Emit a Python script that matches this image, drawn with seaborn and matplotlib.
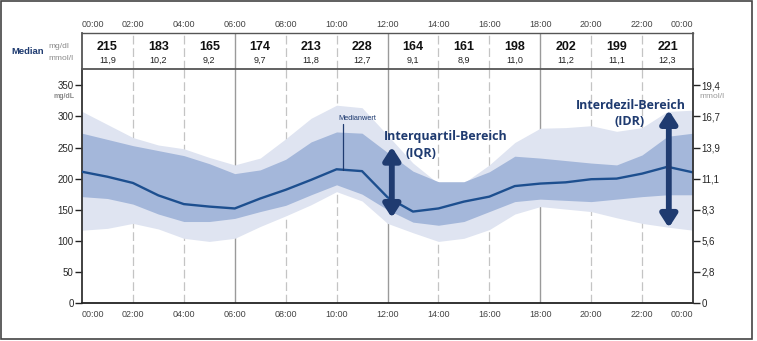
import numpy as np
import pandas as pd
import matplotlib
matplotlib.use("Agg")
import matplotlib.pyplot as plt
import matplotlib.patches as mpatches
import seaborn as sns

# Hourly glucose profile (mg/dL)
hours = list(range(25))
median = [211, 203, 193, 173, 159, 155, 152, 168, 182, 198, 215, 212, 170,
          147, 152, 163, 171, 188, 192, 194, 199, 200, 208, 219, 210]
q25 = [171, 168, 159, 143, 131, 131, 136, 147, 157, 174, 190, 175, 150,
       130, 125, 131, 147, 163, 167, 165, 163, 167, 171, 174, 174]
q75 = [273, 263, 253, 245, 237, 224, 208, 214, 231, 259, 275, 273, 242,
       212, 195, 195, 211, 236, 233, 229, 225, 222, 238, 268, 273]
p10 = [117, 120, 128, 119, 104, 99, 104, 123, 140, 158, 179, 164, 128,
       113, 99, 104, 118, 143, 155, 151, 147, 137, 128, 122, 117]
p90 = [308, 287, 266, 254, 248, 234, 222, 233, 264, 297, 318, 314, 270,
       225, 192, 193, 222, 258, 281, 282, 285, 276, 282, 308, 310]

# Two-hour block medians shown in the header row
block_mgdl = [215, 183, 165, 174, 213, 228, 164, 161, 198, 202, 199, 221]
block_mmol = ["11,9", "10,2", "9,2", "9,7", "11,8", "12,7",
              "9,1", "8,9", "11,0", "11,2", "11,1", "12,3"]

time_labels = ["00:00", "02:00", "04:00", "06:00", "08:00", "10:00", "12:00",
               "14:00", "16:00", "18:00", "20:00", "22:00", "00:00"]
mgdl_ticks = [0, 50, 100, 150, 200, 250, 300, 350]
mmol_labels = ["0", "2,8", "5,6", "8,3", "11,1", "13,9", "16,7", "19,4"]

df = pd.DataFrame({"hour": hours, "median": median, "q25": q25, "q75": q75,
                   "p10": p10, "p90": p90})

sns.set_style("white")
plt.rcParams["font.family"] = ["Liberation Sans", "DejaVu Sans"]

W, H = 757, 341
fig = plt.figure(figsize=(W / 100, H / 100), dpi=100)

# figure coordinates helpers (pixel based)
def fx(px):
    return px / W

def fy(py):
    return 1 - py / H

x0, x1 = 82, 693
y_bot, y_head_bot, y_head_top = 303, 69, 33

ax = fig.add_axes([fx(x0), fy(y_bot), fx(x1) - fx(x0), fy(y_head_bot) - fy(y_bot)])
hx = fig.add_axes([fx(x0), fy(y_head_bot), fx(x1) - fx(x0), fy(y_head_top) - fy(y_head_bot)])

light = "#dfe4f1"
mid = "#a4b7da"
line_col = "#1d4f8f"
navy = "#1f3b70"

ymax = (y_bot - y_head_bot) / 0.622

# vertical grid lines at two-hour marks
for h in range(2, 24, 2):
    solid = h in (6, 12, 18)
    kw = dict(color="#9a9a9a" if solid else "#c4c4c4", lw=1.0 if solid else 0.9,
              zorder=0)
    if not solid:
        kw["dashes"] = (7, 3)
    ax.axvline(h, **kw)
    hx.axvline(h, **kw)

ax.fill_between(df["hour"], df["p10"], df["p90"], color=light, lw=0, zorder=1)
ax.fill_between(df["hour"], df["q25"], df["q75"], color=mid, lw=0, zorder=2)
sns.lineplot(data=df, x="hour", y="median", ax=ax, color=line_col, lw=1.7,
             zorder=3)

ax.set_xlim(0, 24)
ax.set_ylim(0, ymax)
ax.set_xlabel("")
ax.set_ylabel("")
ax.set_xticks(range(0, 25, 2))
ax.set_xticklabels(time_labels)
for i, lab in enumerate(ax.get_xticklabels()):
    if i == 0:
        lab.set_ha("left")
    elif i == len(time_labels) - 1:
        lab.set_ha("right")
ax.tick_params(axis="x", length=0, pad=5, labelsize=6.5, labelcolor="#444444")
ax.set_yticks(mgdl_ticks)
ax.set_yticklabels([str(t) for t in mgdl_ticks])
ax.tick_params(axis="y", direction="out", length=5, width=1, color="#222222",
               labelsize=7, pad=1)

axr = ax.twinx()
axr.set_ylim(0, ymax)
axr.set_yticks(mgdl_ticks)
axr.set_yticklabels(mmol_labels)
axr.tick_params(axis="y", direction="out", length=5, width=1, color="#222222",
                labelsize=7, pad=1)

for a in (ax, axr):
    for s in a.spines.values():
        s.set_visible(False)
ax.spines["left"].set_visible(True)
ax.spines["bottom"].set_visible(True)
ax.spines["left"].set_color("#333333")
ax.spines["bottom"].set_color("#222222")
ax.spines["left"].set_linewidth(1.3)
ax.spines["bottom"].set_linewidth(1.3)
axr.spines["right"].set_visible(True)
axr.spines["right"].set_color("#333333")
axr.spines["right"].set_linewidth(1.3)

# unit captions under the top ticks
fig.text(fx(64), fy(97), "mg/dL", fontsize=5, color="#888888",
         fontweight="bold", ha="center", va="center")
fig.text(fx(699), fy(96), "mmol/l", fontsize=6, color="#999999",
         ha="left", va="center")

# header row with block medians
hx.set_xlim(0, 24)
hx.set_ylim(0, 1)
hx.set_xticks(range(0, 25, 2))
hx.set_xticklabels(time_labels)
hx.xaxis.tick_top()
for i, lab in enumerate(hx.get_xticklabels()):
    if i == 0:
        lab.set_ha("left")
    elif i == len(time_labels) - 1:
        lab.set_ha("right")
hx.tick_params(axis="x", length=0, pad=3, labelsize=6.5, labelcolor="#444444")
hx.set_yticks([])
for side, s in hx.spines.items():
    s.set_color("#555555")
    s.set_linewidth(1.3 if side in ("left", "right", "bottom") else 1.0)
for i, (v, m) in enumerate(zip(block_mgdl, block_mmol)):
    hx.text(2 * i + 1, 0.62, str(v), ha="center", va="center", fontsize=9,
            fontweight="bold", color="#111111")
    hx.text(2 * i + 1, 0.25, m, ha="center", va="center", fontsize=6.5,
            color="#222222")
fig.text(fx(11), fy(52), "Median", fontsize=6.8, fontweight="bold",
         color="#1f3b70", ha="left", va="center")
fig.text(fx(48), fy(47), "mg/dl", fontsize=6, color="#8a8a8a",
         ha="left", va="center")
fig.text(fx(48), fy(58), "mmol/l", fontsize=6, color="#8a8a8a",
         ha="left", va="center")

# annotations
ann_font = ["Open Sans", "DejaVu Sans"]
ax.text(10.8, 296, "Medianwert", fontsize=5.3, color=navy, ha="center",
        va="center", family=["Liberation Sans", "DejaVu Sans"])
ax.plot([10.25, 10.25], [287, 214], color=navy, lw=0.9, zorder=4)

ax.text(14.3, 267, "Interquartil-Bereich", fontsize=9, fontweight="bold",
        color=navy, ha="center", va="center", family=ann_font)
ax.text(13.3, 240, "(IQR)", fontsize=9, fontweight="bold",
        color=navy, ha="center", va="center", family=ann_font)
arrow_style = "<|-|>,head_length=0.42,head_width=0.27"
ax.annotate("", xy=(12.17, 137), xytext=(12.17, 251),
            arrowprops=dict(arrowstyle=arrow_style, lw=4.2, color=navy,
                            mutation_scale=18, shrinkA=0, shrinkB=0), zorder=5)

ax.text(21.56, 318, "Interdezil-Bereich", fontsize=9, fontweight="bold",
        color=navy, ha="center", va="center", family=ann_font)
ax.text(21.5, 291, "(IDR)", fontsize=9, fontweight="bold",
        color=navy, ha="center", va="center", family=ann_font)
ax.annotate("", xy=(23.05, 121), xytext=(23.05, 310),
            arrowprops=dict(arrowstyle=arrow_style, lw=4.2, color=navy,
                            mutation_scale=18, shrinkA=0, shrinkB=0), zorder=5)

# outer frame
fig.patches.append(mpatches.Rectangle((fx(0.8), fy(338.5)), fx(751.5), fy(1) - fy(338.5),
                                      transform=fig.transFigure, fill=False,
                                      edgecolor="#444444", lw=1.2))

fig.savefig("out.png", dpi=100)
